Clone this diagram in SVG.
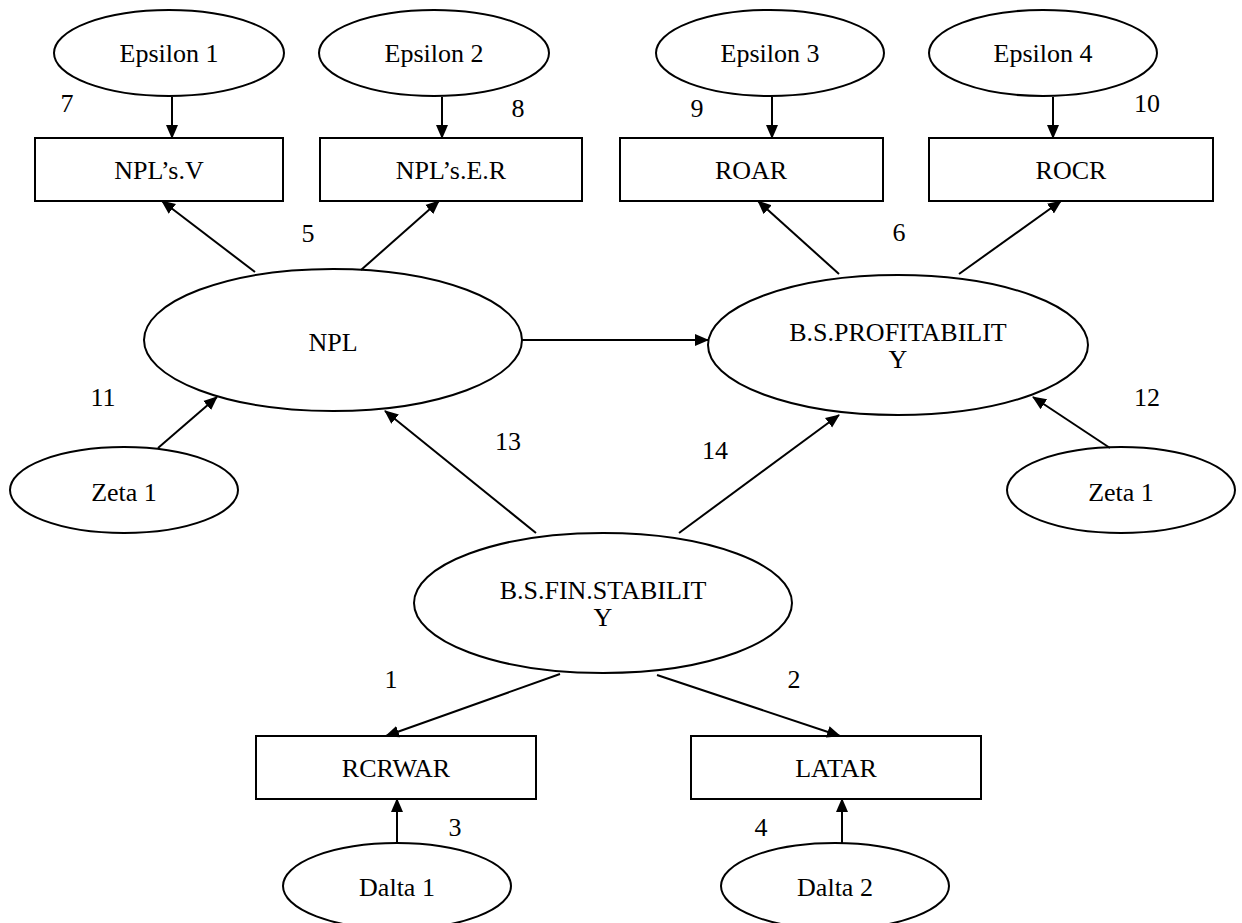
<svg xmlns="http://www.w3.org/2000/svg" width="1242" height="923" viewBox="0 0 1242 923">
<style>
.n{fill:#fff;stroke:#000;stroke-width:2}
text{font-family:'Liberation Serif','Times New Roman','DejaVu Serif',serif;font-size:26px;fill:#000;text-anchor:middle;dominant-baseline:central}
.c{stroke:#000;stroke-width:2;fill:none;marker-end:url(#ah)}
</style>
<defs>
<marker id="ah" markerUnits="userSpaceOnUse" markerWidth="14" markerHeight="14" viewBox="0 0 14 14" refX="13" refY="7" orient="auto">
<path d="M0,1 L14,7 L0,13 Z" fill="#000"/>
</marker>
</defs>
<rect width="1242" height="923" fill="#fff"/>
<g id="eps1"><ellipse class="n" cx="169" cy="53" rx="115" ry="43"/><text x="169" y="53">Epsilon 1</text></g>
<g id="eps2"><ellipse class="n" cx="434" cy="53" rx="115" ry="43"/><text x="434" y="53">Epsilon 2</text></g>
<g id="eps3"><ellipse class="n" cx="770" cy="53" rx="114" ry="43"/><text x="770" y="53">Epsilon 3</text></g>
<g id="eps4"><ellipse class="n" cx="1043" cy="53" rx="114" ry="43"/><text x="1043" y="53">Epsilon 4</text></g>
<g id="nplv"><rect class="n" x="35" y="138" width="248" height="63"/><text x="159" y="170">NPL’s.V</text></g>
<g id="npler"><rect class="n" x="320" y="138" width="262" height="63"/><text x="451" y="170">NPL’s.E.R</text></g>
<g id="roar"><rect class="n" x="620" y="138" width="263" height="63"/><text x="751" y="170">ROAR</text></g>
<g id="rocr"><rect class="n" x="929" y="138" width="284" height="63"/><text x="1071" y="170">ROCR</text></g>
<g id="npl"><ellipse class="n" cx="333" cy="340" rx="189" ry="71"/><text x="333" y="342">NPL</text></g>
<g id="bsp"><ellipse class="n" cx="898" cy="345" rx="190" ry="70"/><text x="898" y="332">B.S.PROFITABILIT</text><text x="898" y="359">Y</text></g>
<g id="zeta1l"><ellipse class="n" cx="124" cy="490" rx="114" ry="43"/><text x="124" y="492">Zeta 1</text></g>
<g id="zeta1r"><ellipse class="n" cx="1121" cy="490" rx="114" ry="43"/><text x="1121" y="492">Zeta 1</text></g>
<g id="bsf"><ellipse class="n" cx="603" cy="603" rx="189" ry="70"/><text x="603" y="590">B.S.FIN.STABILIT</text><text x="603" y="617">Y</text></g>
<g id="rcrwar"><rect class="n" x="256" y="736" width="280" height="63"/><text x="396" y="768">RCRWAR</text></g>
<g id="latar"><rect class="n" x="691" y="736" width="290" height="63"/><text x="836" y="768">LATAR</text></g>
<g id="dalta1"><ellipse class="n" cx="397" cy="886" rx="114" ry="43"/><text x="397" y="887">Dalta 1</text></g>
<g id="dalta2"><ellipse class="n" cx="835" cy="886" rx="114" ry="43"/><text x="835" y="887">Dalta 2</text></g>
<g id="connectors">
<line class="c" x1="172" y1="97" x2="172" y2="138"/>
<line class="c" x1="442" y1="97" x2="442" y2="138"/>
<line class="c" x1="772" y1="97" x2="772" y2="138"/>
<line class="c" x1="1053" y1="97" x2="1053" y2="138"/>
<line class="c" x1="255" y1="272" x2="162" y2="201"/>
<line class="c" x1="361" y1="270" x2="439" y2="201"/>
<line class="c" x1="839" y1="274" x2="758" y2="201"/>
<line class="c" x1="959" y1="274" x2="1061" y2="201"/>
<line class="c" x1="522" y1="340" x2="708" y2="340"/>
<line class="c" x1="158" y1="448" x2="217" y2="397"/>
<line class="c" x1="1110" y1="448" x2="1033" y2="397"/>
<line class="c" x1="536" y1="533" x2="385" y2="411"/>
<line class="c" x1="679" y1="533" x2="839" y2="415"/>
<line class="c" x1="560" y1="674" x2="386" y2="736"/>
<line class="c" x1="657" y1="675" x2="840" y2="736"/>
<line class="c" x1="397" y1="843" x2="397" y2="799"/>
<line class="c" x1="842" y1="843" x2="842" y2="799"/>
</g>
<g id="labels">
<text x="67" y="103">7</text>
<text x="518" y="108">8</text>
<text x="697" y="108">9</text>
<text x="1147" y="103">10</text>
<text x="308" y="233">5</text>
<text x="899" y="232">6</text>
<text x="103" y="397">11</text>
<text x="1147" y="397">12</text>
<text x="508" y="441">13</text>
<text x="715" y="450">14</text>
<text x="391" y="679">1</text>
<text x="794" y="679">2</text>
<text x="455" y="827">3</text>
<text x="761" y="827">4</text>
</g>
</svg>
